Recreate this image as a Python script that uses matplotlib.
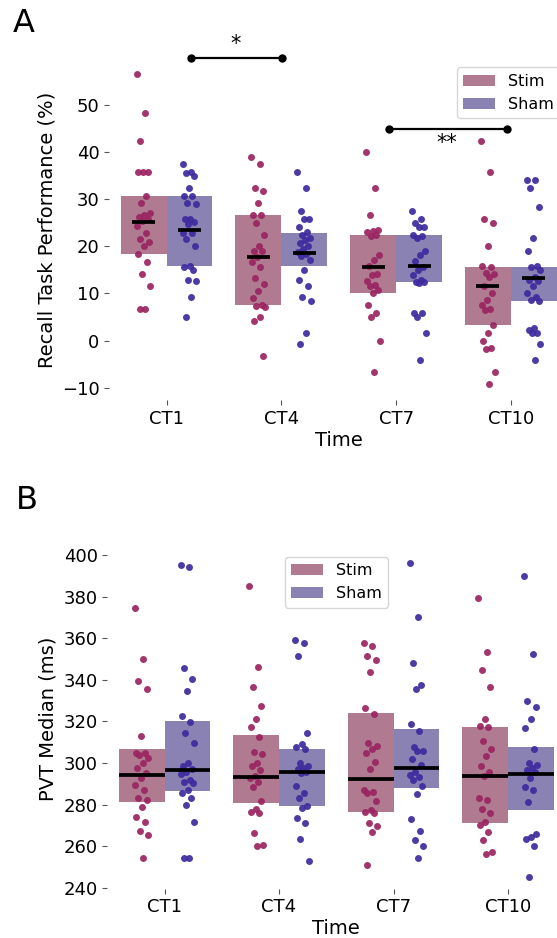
import numpy as np
import matplotlib.pyplot as plt

times = ["CT1", "CT4", "CT7", "CT10"]

# Panel A - recall task performance (%)
recall_stim = [
    [56.6, 48.3, 42.5, 35.8, 35.8, 35.8, 30.8, 29.2, 27.2, 26.8, 26.3, 25.9,
     25.5, 24.4, 22.8, 21.6, 20.9, 20.0, 18.3, 16.6, 14.2, 11.6, 6.6, 6.6],
    [39.1, 37.5, 32.5, 31.7, 29.2, 26.6, 26.6, 24.9, 22.4, 20.0, 19.1, 19.1,
     17.8, 16.6, 15.7, 13.4, 12.0, 10.6, 9.0, 7.6, 7.3, 7.1, 5.1, 4.2, -3.4],
    [40.0, 32.4, 26.6, 23.5, 23.3, 23.0, 22.5, 22.3, 18.2, 17.1, 15.9, 14.2,
     14.0, 12.7, 11.9, 11.5, 10.7, 10.1, 7.5, 5.8, 5.1, 0.0, -6.6],
    [42.4, 35.8, 25.9, 24.9, 20.0, 15.9, 15.7, 14.3, 14.1, 13.6, 11.6, 10.0,
     8.6, 7.6, 6.6, 6.5, 3.3, 1.7, 0.0, -1.7, -1.9, -6.6, -9.2],
]
recall_sham = [
    [37.5, 35.8, 35.6, 34.9, 32.5, 30.8, 30.8, 29.2, 29.0, 25.8, 25.8, 25.3,
     24.7, 22.8, 22.8, 21.6, 20.0, 15.9, 15.7, 14.9, 12.9, 12.6, 9.2, 5.0],
    [35.8, 32.5, 27.6, 25.8, 25.8, 24.2, 23.0, 22.4, 21.9, 21.4, 20.7, 20.1,
     19.4, 18.8, 18.5, 18.0, 17.1, 15.0, 12.9, 11.6, 9.2, 8.3, 1.7, -0.8],
    [27.6, 25.9, 24.9, 24.2, 24.1, 22.4, 22.3, 21.9, 19.0, 18.2, 17.0, 15.7,
     15.0, 13.9, 12.9, 12.5, 12.4, 12.3, 5.9, 5.8, 5.1, 1.7, -4.2],
    [34.1, 34.1, 32.4, 28.3, 21.7, 19.1, 15.9, 15.7, 14.9, 13.6, 12.9, 12.7,
     11.5, 10.0, 9.3, 8.6, 8.3, 2.6, 2.2, 1.7, 1.5, -0.7, -4.2],
]
recall_stim_mean = [25.2, 17.8, 15.7, 11.5]
recall_stim_low = [18.3, 7.6, 10.0, 3.4]
recall_stim_high = [30.7, 26.6, 22.4, 15.7]
recall_sham_mean = [23.5, 18.7, 15.9, 13.4]
recall_sham_low = [15.8, 15.8, 12.5, 8.4]
recall_sham_high = [30.7, 22.8, 22.4, 15.7]

# Panel B - PVT median (ms)
pvt_stim = [
    [374.3, 349.8, 339.4, 335.5, 313.1, 304.9, 304.6, 303.8, 302.2, 299.8, 297.7,
     295.0, 292.6, 289.4, 287.0, 283.3, 282.2, 279.0, 274.1, 271.7, 267.2, 265.3, 254.1],
    [385.2, 346.3, 336.3, 327.5, 321.0, 317.4, 312.3, 305.4, 304.1, 299.8, 298.5,
     296.6, 293.9, 292.6, 291.0, 288.2, 281.7, 277.8, 276.5, 275.7, 266.4, 260.5, 260.0],
    [357.5, 356.4, 351.4, 349.5, 343.9, 326.6, 323.5, 309.4, 308.1, 306.5, 304.6,
     300.6, 296.9, 287.0, 286.2, 285.4, 281.8, 277.3, 276.5, 275.7, 270.9, 269.6,
     266.9, 250.9],
    [379.2, 353.5, 344.7, 336.3, 321.0, 317.7, 317.4, 310.7, 306.5, 303.5, 298.7,
     295.8, 293.7, 283.0, 282.2, 277.8, 275.7, 271.7, 270.1, 266.9, 262.9, 257.3, 256.2],
]
pvt_sham = [
    [395.2, 394.4, 345.5, 340.4, 334.6, 322.7, 319.5, 314.2, 309.7, 299.8, 298.5,
     297.1, 295.8, 294.7, 291.8, 291.0, 290.2, 287.0, 285.7, 283.3, 279.8, 271.4,
     254.1, 254.1],
    [359.1, 357.8, 351.4, 314.2, 309.1, 307.5, 306.5, 299.8, 298.5, 297.7, 296.9,
     295.8, 295.0, 288.9, 285.4, 283.0, 279.3, 278.5, 273.3, 270.9, 263.4, 253.0],
    [396.0, 370.3, 348.2, 337.5, 335.5, 318.7, 315.5, 307.8, 305.7, 305.7, 301.7,
     299.0, 295.8, 294.2, 293.4, 291.8, 288.9, 284.9, 272.9, 267.4, 262.9, 260.0, 254.1],
    [390.1, 352.4, 329.8, 326.7, 321.1, 316.6, 306.5, 299.8, 299.0, 297.7, 296.6,
     295.8, 292.6, 288.6, 287.0, 281.4, 265.6, 264.5, 263.2, 260.0, 245.2],
]
pvt_stim_mean = [294.3, 293.4, 292.3, 293.8]
pvt_stim_low = [281.0, 280.9, 276.5, 270.9]
pvt_stim_high = [306.7, 313.4, 324.2, 317.4]
pvt_sham_mean = [296.4, 295.4, 297.8, 294.8]
pvt_sham_low = [286.3, 279.3, 287.8, 277.3]
pvt_sham_high = [320.3, 306.5, 316.3, 307.8]

stim_box = "#b07b91"
sham_box = "#8982b2"
stim_dot = "#9a2460"
sham_dot = "#3e2a9e"

W, H = 557, 938
fig = plt.figure(figsize=(W / 100, H / 100), dpi=100)
plt.rcParams["font.family"] = "DejaVu Sans"

bw = 0.4


def jitter(n):
    # fixed spread for the strip dots
    k = np.arange(n)
    return ((k * 0.618034) % 1.0 - 0.5) * 0.12


def draw_panel(ax, stim, sham, s_mean, s_low, s_high, h_mean, h_low, h_high, short_mean):
    x = np.arange(len(times))
    ax.bar(x - bw / 2, np.array(s_high) - np.array(s_low), bottom=s_low, width=bw,
           color=stim_box, edgecolor="none", label="Stim", zorder=1)
    ax.bar(x + bw / 2, np.array(h_high) - np.array(h_low), bottom=h_low, width=bw,
           color=sham_box, edgecolor="none", label="Sham", zorder=1)
    for i in range(len(times)):
        ax.scatter(x[i] - bw / 2 + jitter(len(stim[i])), stim[i], s=25,
                   color=stim_dot, alpha=0.92, linewidths=0, zorder=2)
        ax.scatter(x[i] + bw / 2 + jitter(len(sham[i])), sham[i], s=25,
                   color=sham_dot, alpha=0.92, linewidths=0, zorder=2)
        half = 0.1 if short_mean else bw / 2
        ax.hlines(s_mean[i], x[i] - bw / 2 - half, x[i] - bw / 2 + half,
                  color="black", lw=2.7, zorder=3)
        ax.hlines(h_mean[i], x[i] + bw / 2 - half, x[i] + bw / 2 + half,
                  color="black", lw=2.7, zorder=3)
    ax.set_xticks(x)
    ax.set_xticklabels(times)
    ax.set_xlim(-0.5, 3.5)
    for sp in ax.spines.values():
        sp.set_visible(False)
    ax.tick_params(labelsize=13, length=3.5, color="#555555")
    ax.set_xlabel("Time", fontsize=14, labelpad=2)


# Panel A
axA = fig.add_axes([109.1 / W, 1 - 400.2 / H, 459.2 / W, 340.8 / H])
draw_panel(axA, recall_stim, recall_sham, recall_stim_mean, recall_stim_low,
           recall_stim_high, recall_sham_mean, recall_sham_low, recall_sham_high, True)
axA.set_ylim(-12.7, 59.8)
axA.set_yticks([-10, 0, 10, 20, 30, 40, 50])
axA.set_ylabel("Recall Task Performance (%)", fontsize=14)
axA.legend(loc="upper right", fontsize=11.5)

# significance bars
axA.plot([0.21, 1.01], [60, 60], color="black", lw=1.6, marker="o", ms=5,
         clip_on=False, zorder=4)
axA.text(0.6, 61.7, "*", ha="center", va="baseline", fontsize=15, clip_on=False)
axA.plot([1.94, 2.97], [45, 45], color="black", lw=1.6, marker="o", ms=5,
         clip_on=False, zorder=4)
axA.text(2.44, 40.8, "**", ha="center", va="baseline", fontsize=15)

# Panel B
axB = fig.add_axes([107.3 / W, 1 - 888.7 / H, 458.0 / W, 339.9 / H])
draw_panel(axB, pvt_stim, pvt_sham, pvt_stim_mean, pvt_stim_low, pvt_stim_high,
           pvt_sham_mean, pvt_sham_low, pvt_sham_high, False)
axB.set_ylim(239.5, 403)
axB.set_yticks([240, 260, 280, 300, 320, 340, 360, 380, 400])
axB.set_ylabel("PVT Median (ms)", fontsize=14)
axB.legend(loc="upper center", fontsize=11.5)

fig.text(13 / W, 1 - 32 / H, "A", fontsize=23, ha="left", va="baseline")
fig.text(16 / W, 1 - 509 / H, "B", fontsize=23, ha="left", va="baseline")

fig.savefig("out.png", dpi=100)
